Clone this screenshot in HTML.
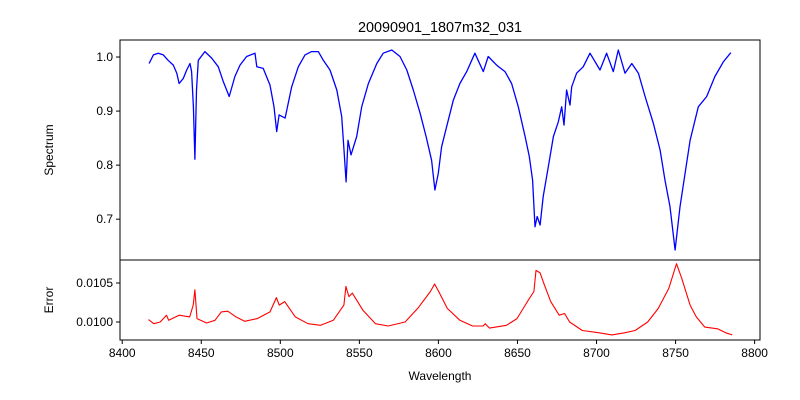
<!DOCTYPE html>
<html><head><meta charset="utf-8"><style>
body{margin:0;background:#fff;}
svg{display:block;font-family:"Liberation Sans","DejaVu Sans",sans-serif;}
</style></head><body>
<svg id="chart" width="800" height="400" viewBox="0 0 800 400"></svg>
<script>
const specWave=[8417,8419.7,8422.8,8426,8429,8432.3,8434.5,8436,8438.6,8440.8,8442.9,8443.9,8445,8446,8447,8448.1,8452.3,8456.6,8460.8,8464,8467.7,8471.3,8474.5,8478.7,8484,8485.1,8489.2,8493.5,8496,8497.7,8499.2,8503,8507.2,8511.4,8515.6,8519.8,8524,8527.2,8531.4,8535.7,8538.8,8540.3,8541.6,8542.8,8544.7,8548.3,8551.5,8555.7,8561,8565.1,8570.5,8575.7,8580,8584.1,8588.4,8592.2,8595.7,8597.8,8599.9,8602,8605.2,8609.4,8613.6,8617.9,8623.1,8628.4,8631.5,8636.8,8642.1,8646.3,8650.5,8654.8,8657.5,8659.6,8661.1,8662.5,8664.3,8666.3,8669.5,8672.7,8675.8,8678,8679.4,8681.1,8683.2,8684.3,8687.4,8691.6,8695.9,8702.2,8706.4,8710.6,8713.8,8718,8722.3,8726.5,8730.7,8736,8740.2,8743.3,8746.5,8749.7,8752.8,8756,8759.2,8764.4,8769.7,8774.9,8780.2,8784.9];
const specFlux=[0.988,1.004,1.007,1.004,0.994,0.985,0.970,0.951,0.960,0.976,0.988,0.973,0.908,0.811,0.939,0.994,1.010,0.998,0.982,0.954,0.927,0.964,0.985,1.001,1.007,0.982,0.979,0.948,0.908,0.862,0.893,0.887,0.945,0.982,1.004,1.010,1.010,0.994,0.976,0.939,0.890,0.828,0.769,0.846,0.819,0.853,0.908,0.951,0.988,1.007,1.013,1.001,0.976,0.939,0.896,0.853,0.809,0.754,0.785,0.834,0.871,0.920,0.951,0.973,1.007,0.973,1.001,0.985,0.973,0.951,0.908,0.853,0.816,0.772,0.686,0.705,0.689,0.742,0.797,0.853,0.880,0.908,0.874,0.939,0.911,0.945,0.970,0.982,1.007,0.976,1.007,0.973,1.013,0.970,0.988,0.970,0.927,0.877,0.828,0.772,0.723,0.643,0.723,0.785,0.846,0.908,0.927,0.964,0.991,1.008];
const errWave=[8416.6,8420,8424,8428,8429.4,8436,8442.7,8444.9,8446,8447.3,8453.4,8458.7,8462.7,8466.8,8472,8477.4,8485.4,8493.5,8497.5,8499.3,8502.8,8509.5,8517.5,8525.5,8533.5,8540.2,8541.5,8543.4,8545.5,8552.2,8560.2,8568.2,8578.9,8586.9,8594.9,8597.6,8600.2,8605.6,8613.6,8621.6,8628.3,8629.6,8632.3,8643,8649.7,8656.3,8660.4,8661.7,8664.3,8667,8671,8676.4,8679.8,8683,8691,8701.7,8709.7,8717.7,8724.4,8732.4,8739.1,8745.8,8750.6,8753.8,8759.2,8763.1,8768.5,8776.5,8781.8,8785.8];
const errVal=[0.010030,0.009978,0.0100,0.010087,0.010022,0.010087,0.010065,0.010217,0.010413,0.010043,0.009987,0.010022,0.010130,0.010139,0.010065,0.010009,0.010043,0.010130,0.010313,0.010217,0.010261,0.010065,0.009978,0.009957,0.010022,0.010217,0.010457,0.010326,0.010370,0.010152,0.009978,0.009948,0.0100,0.010174,0.010391,0.010487,0.010391,0.010174,0.010022,0.009948,0.009948,0.009978,0.009922,0.009957,0.010043,0.010261,0.010391,0.010661,0.010630,0.010478,0.010261,0.010087,0.010109,0.0100,0.009891,0.009861,0.009835,0.009861,0.009891,0.0100,0.010174,0.010435,0.010748,0.010565,0.010217,0.010065,0.009935,0.009913,0.009861,0.009835];
const xTicks=[8400,8450,8500,8550,8600,8650,8700,8750,8800];
const topTicks=[0.7,0.8,0.9,1.0];
const botTicks=[0.0100,0.0105];
const botTickLabels=["0.0100","0.0105"];

const NS="http://www.w3.org/2000/svg";
const svg=document.getElementById('chart');
const L=120,R=760,T1=40,B1=260,T2=260,B2=340;
const X=w=>L+(w-8398.6)*(R-L)/(8803.4-8398.6);
const Y1=v=>T1+(1.0315-v)*(B1-T1)/(1.0315-0.6245);
const Y2=v=>T2+(0.010795-v)*(B2-T2)/(0.010795-0.009769);
function el(tag,attrs,parent){const e=document.createElementNS(NS,tag);for(const k in attrs)e.setAttribute(k,attrs[k]);(parent||svg).appendChild(e);return e;}
function txt(s,attrs){const t=el('text',attrs);t.textContent=s;return t;}

const p1=specWave.map((w,i)=>X(w).toFixed(1)+','+Y1(specFlux[i]).toFixed(1)).join(' ');
const l1=el('polyline',{points:p1,fill:'none',stroke:'#0000ff','stroke-width':1.3,'stroke-linejoin':'round'});


const p2=errWave.map((w,i)=>X(w).toFixed(1)+','+Y2(errVal[i]).toFixed(1)).join(' ');
const l2=el('polyline',{points:p2,fill:'none',stroke:'#ff0000','stroke-width':1.1,'stroke-linejoin':'round'});



const f1=el('rect',{x:L,y:T1,width:R-L,height:B1-T1,fill:'none',stroke:'#000','stroke-width':1});


const f2=el('rect',{x:L,y:T2,width:R-L,height:B2-T2,fill:'none',stroke:'#000','stroke-width':1});



xTicks.forEach(w=>{const x=X(w);
 el('line',{x1:x,y1:B2,x2:x,y2:B2+4,stroke:'#000'});
 const t=txt(String(w),{x:x,y:B2+17,'font-size':12,'text-anchor':'middle'});
 
 
});
topTicks.forEach(v=>{const y=Y1(v);
 el('line',{x1:L-4,y1:y,x2:L,y2:y,stroke:'#000'});
 const t=txt(v.toFixed(1),{x:L-7,y:y+4,'font-size':12,'text-anchor':'end'});
 
 
});
botTicks.forEach((v,i)=>{const y=Y2(v);
 el('line',{x1:L-4,y1:y,x2:L,y2:y,stroke:'#000'});
 const t=txt(botTickLabels[i],{x:L-7,y:y+4,'font-size':12,'text-anchor':'end'});
 
 
});
const title=txt('20090901_1807m32_031',{x:440,y:32,'font-size':14.4,'text-anchor':'middle'});


const xl=txt('Wavelength',{x:440,y:380,'font-size':12,'text-anchor':'middle'});


const yl1=txt('Spectrum',{x:0,y:0,'font-size':12,'text-anchor':'middle',transform:'translate(53,150) rotate(-90)'});


const yl2=txt('Error',{x:0,y:0,'font-size':12,'text-anchor':'middle',transform:'translate(53,300) rotate(-90)'});


</script>
</body></html>
